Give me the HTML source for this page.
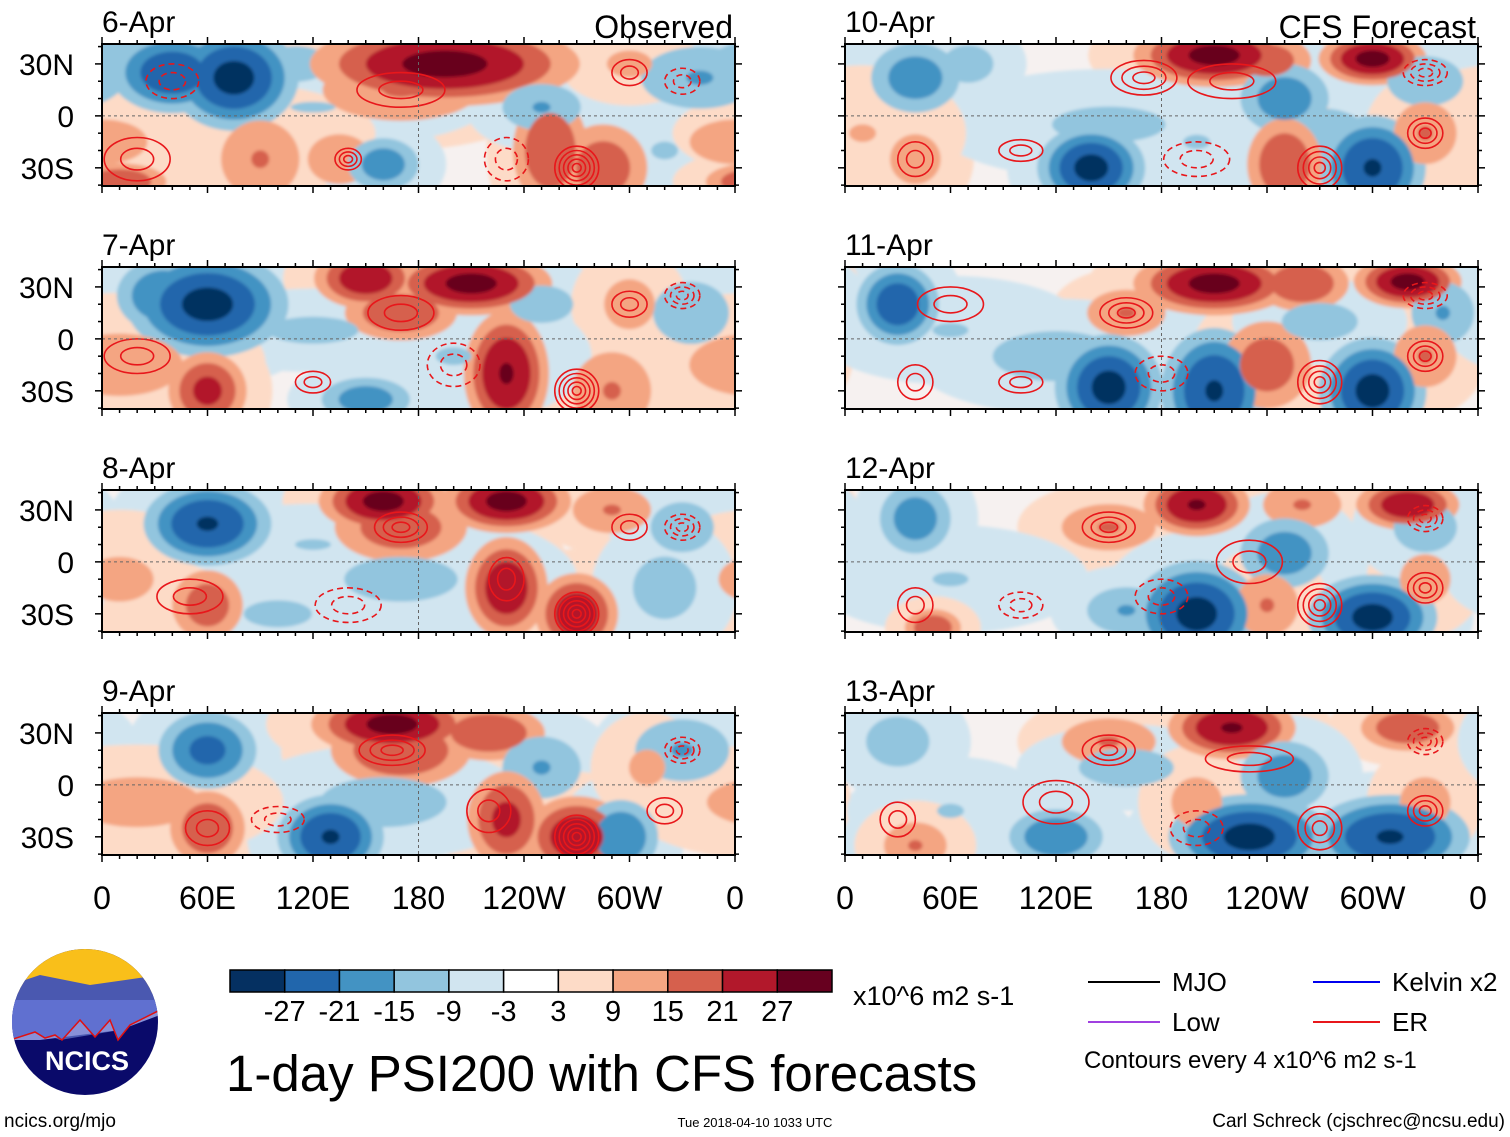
<!DOCTYPE html>
<html><head><meta charset="utf-8">
<style>
html,body{margin:0;padding:0;background:#fff;}
body{width:1510px;height:1137px;position:relative;overflow:hidden;font-family:"Liberation Sans",sans-serif;}
svg{position:absolute;left:0;top:0;}
</style></head>
<body>
<svg id="fig" width="1510" height="1137" viewBox="0 0 1510 1137" xmlns="http://www.w3.org/2000/svg">
<defs><filter id="bl" x="-20%" y="-20%" width="140%" height="140%"><feGaussianBlur stdDeviation="1.5"/></filter></defs>
</svg>
<script>
// ---------- data ----------
const panelDates = ["6-Apr","7-Apr","8-Apr","9-Apr","10-Apr","11-Apr","12-Apr","13-Apr"];
const levelBounds = [-27,-21,-15,-9,-3,3,9,15,21,27];
const levelColors = ["#053061","#2166ac","#4393c3","#92c5de","#d1e5f0","#ffffff","#fddbc7","#f4a582","#d6604d","#b2182b","#67001f"];
const lonTickLabels = ["0","60E","120E","180","120W","60W","0"];
const latTickLabels = ["30N","0","30S"];
const latTickValues = [30,0,-30];
// blobs: [lon, lat, value, sigmaLon, sigmaLat]
const blobs6 = [[40,25,-25,12,8],[75,22,-28,12,10],[20,30,-12,20,8],[110,30,-10,15,8],[170,15,15,20,8],[195,30,28,25,8],[220,22,12,20,8],[0,-15,10,20,10],[90,-25,15,10,10],[135,-25,12,10,8],[160,-28,-18,8,6],[120,5,-9,25,6],[255,-20,20,8,12],[285,-30,18,10,10],[250,5,-15,10,6],[340,22,-15,15,8],[320,-20,-9,15,10],[60,-10,8,25,8],[300,30,10,10,6],[10,-38,20,10,4]];
const blobs7 = [[60,20,-28,15,10],[35,25,-20,10,8],[150,35,25,10,6],[210,32,28,15,6],[170,15,20,12,6],[120,5,-10,20,6],[230,-20,27,8,12],[60,-30,22,8,8],[150,-35,-18,10,5],[250,20,-12,10,6],[290,-30,15,10,10],[335,15,-12,12,10],[10,-15,12,20,10],[300,20,12,8,8],[200,-10,-9,20,10]];
const blobs8 = [[60,22,-27,12,8],[160,35,28,12,6],[170,20,18,15,8],[230,35,28,12,6],[290,30,15,10,6],[330,20,-12,10,8],[60,-25,18,8,8],[230,-15,25,8,10],[270,-30,25,8,8],[170,-10,-10,25,10],[100,-30,-10,15,6],[10,-10,10,15,10],[120,10,-9,20,6],[320,-15,-12,10,10]];
const blobs9 = [[60,20,-22,10,8],[165,35,28,15,6],[170,20,20,15,8],[220,30,20,12,6],[250,10,-15,10,8],[330,20,-15,12,8],[60,-25,20,8,8],[130,-30,-27,10,8],[230,-20,22,8,10],[270,-30,25,10,8],[295,-30,-20,8,8],[160,-10,-12,20,8],[20,-10,12,20,8],[310,10,10,8,8]];
const blobs10 = [[210,35,28,15,6],[240,32,18,10,6],[300,33,28,10,5],[330,20,-12,12,8],[40,22,-18,10,8],[70,30,-12,8,6],[140,-30,-28,10,8],[250,10,-18,10,8],[270,-10,-12,15,8],[300,-30,-27,10,10],[330,-10,15,8,8],[250,-28,20,8,10],[40,-25,12,8,8],[150,-5,-10,25,8],[200,-15,-9,15,8],[10,-10,9,15,10]];
const blobs11 = [[30,20,-25,8,8],[210,32,28,15,6],[260,32,20,10,6],[320,33,28,10,5],[340,15,-15,8,8],[160,15,15,10,6],[150,-28,-28,10,10],[210,-30,-27,10,12],[300,-30,-28,10,10],[330,-10,15,8,8],[240,-15,18,10,10],[120,-10,-12,20,8],[60,5,-9,20,8],[270,10,-12,12,6]];
const blobs12 = [[40,25,-18,8,8],[200,33,27,10,6],[260,33,15,10,6],[320,33,25,10,5],[150,20,15,12,6],[250,5,-18,10,8],[200,-30,-28,12,10],[300,-32,-28,12,8],[330,-10,12,8,8],[160,-28,-15,10,6],[60,-10,-9,20,8],[330,20,-12,10,8],[240,-25,15,8,8],[50,-38,20,6,4]];
const blobs13 = [[220,33,27,12,6],[320,33,20,10,5],[150,25,15,12,6],[160,10,-12,15,6],[250,5,-18,10,8],[230,-30,-28,15,8],[310,-30,-27,15,8],[330,-10,12,8,8],[200,-10,12,8,8],[120,-30,-20,10,6],[60,-15,-9,15,8],[30,25,-12,10,8],[40,-35,15,8,6]];
// ER contours: [lon, lat, rings, sign, radiusLon, radiusLat]
const er6 = [[170,15,2,1,20,8],[270,-30,5,1,10,10],[140,-25,3,1,6,5],[40,20,2,-1,12,8],[300,25,2,1,8,6],[330,20,2,-1,8,6],[20,-25,2,1,15,10],[230,-25,2,-1,10,10]];
const er7 = [[170,15,2,1,15,8],[270,-30,5,1,10,10],[120,-25,2,1,8,5],[330,25,3,-1,8,6],[20,-10,2,1,15,8],[300,20,2,1,8,6],[200,-15,2,-1,12,10]];
const er8 = [[170,20,3,1,12,7],[270,-30,5,1,10,10],[230,-10,2,1,8,10],[330,20,3,-1,8,6],[300,20,2,1,8,6],[50,-20,2,1,15,8],[140,-25,2,-1,15,8]];
const er9 = [[165,20,3,1,15,7],[270,-30,5,1,10,10],[320,-15,2,1,8,6],[330,20,3,-1,8,6],[220,-15,2,1,10,10],[60,-25,2,1,10,8],[100,-20,2,-1,12,6]];
const er10 = [[170,22,3,1,15,8],[270,-30,4,1,10,10],[330,-10,3,1,8,7],[330,25,3,-1,10,6],[220,20,2,1,20,8],[40,-25,2,1,8,8],[100,-20,2,1,10,5],[200,-25,2,-1,15,8]];
const er11 = [[160,15,3,1,12,7],[270,-25,4,1,10,10],[330,-10,3,1,8,7],[330,25,3,-1,10,6],[40,-25,2,1,8,8],[100,-25,2,1,10,5],[180,-20,2,-1,12,8],[60,20,2,1,15,8]];
const er12 = [[150,20,3,1,12,7],[270,-25,4,1,10,10],[330,-15,3,1,8,7],[330,25,3,-1,8,6],[40,-25,2,1,8,8],[230,0,2,1,15,10],[100,-25,2,-1,10,6],[180,-20,2,-1,12,8]];
const er13 = [[150,20,3,1,12,7],[270,-25,3,1,10,10],[330,-15,3,1,8,7],[330,25,3,-1,8,6],[120,-10,2,1,15,10],[200,-25,2,-1,12,8],[30,-20,2,1,8,8],[230,15,2,1,20,6]];
const panelBlobs = [blobs6,blobs7,blobs8,blobs9,blobs10,blobs11,blobs12,blobs13];
const panelER = [er6,er7,er8,er9,er10,er11,er12,er13];

// ---------- drawing ----------
const NS="http://www.w3.org/2000/svg";
const svg=document.getElementById('fig');
function mk(tag,attrs,parent){const e=document.createElementNS(NS,tag);for(const k in attrs)e.setAttribute(k,attrs[k]);(parent||svg).appendChild(e);return e;}
const PW=633, latTop=41.5, latBot=-40.5;
const colX=[102,845], rowY=[44,267,490,713], PH=142;
const SCALE=1.7;
function colorFor(v){let i=0;while(i<levelBounds.length&&v>levelBounds[i])i++;return levelColors[i];}

panelDates.forEach((d,p)=>{
  const col=p<4?0:1, row=p%4;
  const x0=colX[col], y0=rowY[row];
  const xs=lon=>x0+lon/360*PW;
  const ys=lat=>y0+(latTop-lat)/(latTop-latBot)*PH;
  const g=mk('g',{});
  
  
  const cid='clip'+p;
  const cp=mk('clipPath',{id:cid},g);mk('rect',{x:x0,y:y0,width:PW,height:PH},cp);
  const inner=mk('g',{'clip-path':'url(#'+cid+')'},g);
  mk('rect',{x:x0,y:y0,width:PW,height:PH,fill:'#f6f1f0'},inner);
  const fg=mk('g',{filter:'url(#bl)'},inner);
  const thresholds=[3,9,15,21,27];
  thresholds.forEach(t=>{
    panelBlobs[p].forEach(b=>{
      const [lon,lat,v,sx,sy]=b; const a=Math.abs(v);
      const tt=t===3?1.2:t;
      if(a<tt)return;
      const r=Math.sqrt(2*Math.log(a/tt))+0.3;
      const val=v>0?t+0.1:-t-0.1;
      for(const off of [-360,0,360]){
        const e=mk('ellipse',{cx:xs(lon+off),cy:ys(lat),rx:SCALE*sx*r/360*PW,ry:SCALE*sy*r/(latTop-latBot)*PH,fill:colorFor(val)},fg);
        
        
      }
    });
  });
  panelER[p].forEach(c=>{
    const [lon,lat,n,s,rx,ry]=c;
    for(let k=1;k<=n;k++){
      const f=k/n;
      const e=mk('ellipse',{cx:xs(lon),cy:ys(lat),rx:rx*f/360*PW*1.25,ry:ry*f/(latTop-latBot)*PH*1.25,fill:'none',stroke:'#e8171b','stroke-width':1.6,'stroke-dasharray':s<0?'6,4':'none'},inner);
      
      
    }
  });
  mk('line',{x1:x0,x2:x0+PW,y1:ys(0),y2:ys(0),stroke:'#666','stroke-width':1,'stroke-dasharray':'3,3'},inner);
  mk('line',{x1:xs(180),x2:xs(180),y1:y0,y2:y0+PH,stroke:'#666','stroke-width':1,'stroke-dasharray':'3,3'},inner);
  mk('rect',{x:x0,y:y0,width:PW,height:PH,fill:'none',stroke:'#000','stroke-width':2},g);
  for(let lon=0;lon<=360;lon+=10){
    const L=lon%60===0?7:4;
    mk('line',{x1:xs(lon),x2:xs(lon),y1:y0,y2:y0-L,stroke:'#000','stroke-width':1.5},g);
    mk('line',{x1:xs(lon),x2:xs(lon),y1:y0+PH,y2:y0+PH+L,stroke:'#000','stroke-width':1.5},g);
  }
  for(let lat=-40;lat<=40;lat+=10){
    const L=lat%30===0?7:4;
    mk('line',{x1:x0,x2:x0-L,y1:ys(lat),y2:ys(lat),stroke:'#000','stroke-width':1.5},g);
    mk('line',{x1:x0+PW,x2:x0+PW+L,y1:ys(lat),y2:ys(lat),stroke:'#000','stroke-width':1.5},g);
  }
  const t=mk('text',{x:x0,y:y0-12,'font-size':30,fill:'#000'},g);t.textContent=d;
  
  if(col===0){
    latTickLabels.forEach((lb,i)=>{
      const tt=mk('text',{x:74,y:ys(latTickValues[i])+11,'font-size':30,'text-anchor':'end'},g);tt.textContent=lb;
      
    });
  }
  if(row===3){
    lonTickLabels.forEach((lb,i)=>{
      const tt=mk('text',{x:xs(i*60),y:909,'font-size':32,'text-anchor':'middle'},g);tt.textContent=lb;
      
    });
  }
  if(row===0){
    const h=mk('text',{x:x0+PW-2,y:y0-6,'font-size':32,'text-anchor':'end'},g);
    h.textContent=col===0?'Observed':'CFS Forecast';
    
  }
});

const cb=mk('g',{});

const cbx=230,cbw=602/11;
levelColors.forEach((c,i)=>{
  const r=mk('rect',{x:cbx+i*cbw,y:970,width:cbw,height:22,fill:c,stroke:'#000','stroke-width':1.5},cb);
  
});
levelBounds.forEach((v,i)=>{
  const t=mk('text',{x:cbx+(i+1)*cbw,y:1021,'font-size':29,'text-anchor':'middle'},cb);t.textContent=v;
  
});
</script>
<svg width="1510" height="1137" viewBox="0 0 1510 1137" xmlns="http://www.w3.org/2000/svg" style="pointer-events:none">
 <text x="853" y="1005" font-size="27">x10^6 m2 s-1</text>
 <text x="226" y="1091" font-size="51">1-day PSI200 with CFS forecasts</text>
 <g>
  <line x1="1088" x2="1160" y1="982" y2="982" stroke="#000" stroke-width="2"/><text x="1172" y="991" font-size="26">MJO</text>
  <line x1="1088" x2="1160" y1="1022" y2="1022" stroke="#a040e0" stroke-width="2"/><text x="1172" y="1031" font-size="26">Low</text>
  <line x1="1313" x2="1380" y1="982" y2="982" stroke="#0000ee" stroke-width="2"/><text x="1392" y="991" font-size="26">Kelvin x2</text>
  <line x1="1313" x2="1380" y1="1022" y2="1022" stroke="#e8171b" stroke-width="2"/><text x="1392" y="1031" font-size="26">ER</text>
  <text x="1084" y="1068" font-size="24">Contours every 4 x10^6 m2 s-1</text>
 </g>
 <g>
  <clipPath id="lc"><circle cx="85" cy="1022" r="73"/></clipPath>
  <g clip-path="url(#lc)">
   <rect x="10" y="948" width="150" height="150" fill="#0a0a6a"/>
   <rect x="10" y="948" width="150" height="45" fill="#f9bf1a"/>
   <path d="M10 985 L40 975 L90 985 L160 975 L160 1010 L120 1030 L60 1040 L10 1020Z" fill="#4a58b0"/>
   <path d="M10 1010 L60 1000 L110 1010 L160 1005 L160 1015 L120 1030 L40 1040 L10 1040Z" fill="#8890d8"/>
   <path d="M10 1040 L35 1032 L45 1038 L55 1035 L62 1040 L80 1020 L95 1037 L110 1020 L118 1040 L130 1025 L160 1010 L160 1000 L10 1000Z" fill="#6070d0"/>
   <path d="M10 1040 L35 1032 L45 1038 L55 1035 L62 1040 L80 1020 L95 1037 L110 1020 L118 1040 L130 1025 L160 1010" fill="none" stroke="#e01010" stroke-width="1.5"/>
  </g>
  <text x="87" y="1070" font-size="27" font-weight="bold" fill="#fff" text-anchor="middle">NCICS</text>
 </g>
 <text x="4" y="1127" font-size="19">ncics.org/mjo</text>
 <text x="755" y="1127" font-size="13" text-anchor="middle">Tue 2018-04-10 1033 UTC</text>
 <text x="1505" y="1127" font-size="19" text-anchor="end">Carl Schreck (cjschrec@ncsu.edu)</text>
</svg>
</body></html>
